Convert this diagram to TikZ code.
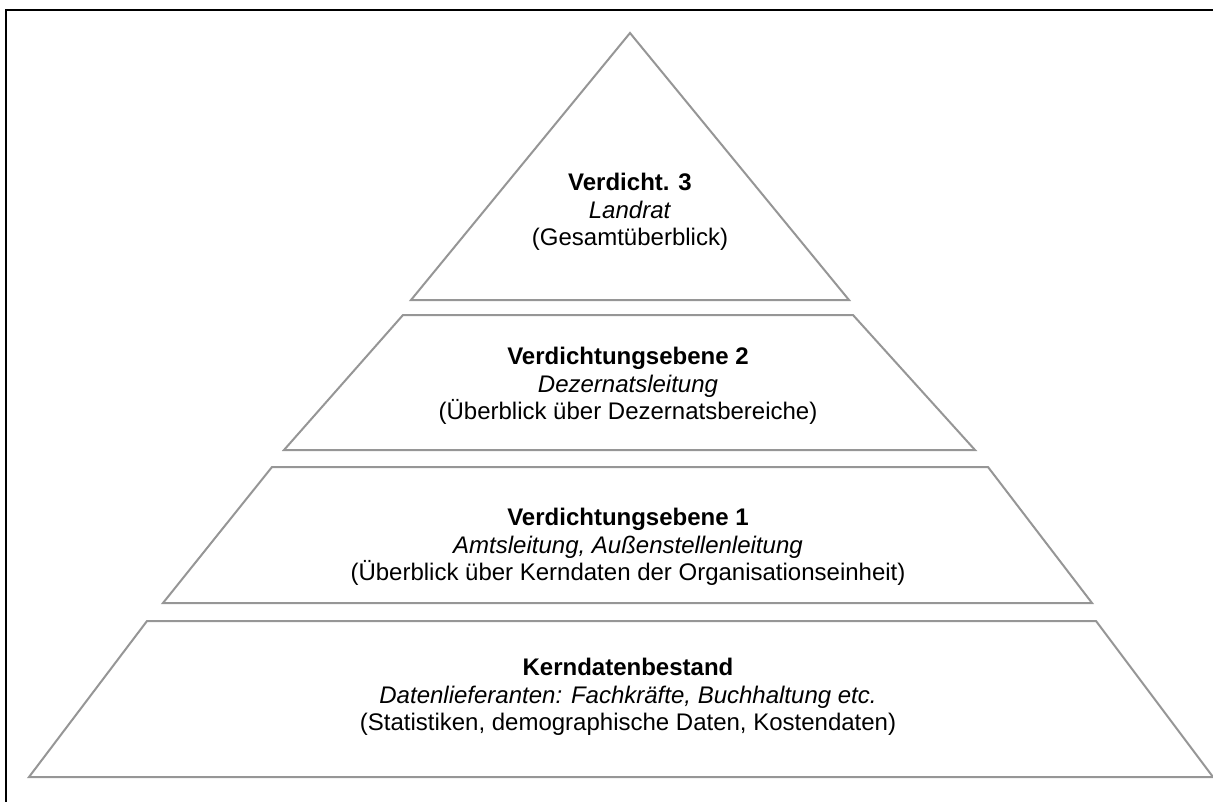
\documentclass[tikz,border=0pt]{standalone}
\usepackage{fontspec}
\setmainfont{Liberation Sans}
\definecolor{layergray}{RGB}{150,150,150}

\begin{document}
\begin{tikzpicture}[x=0.75pt, y=-0.75pt,
    layer/.style={draw=layergray, line width=1.5pt, line join=miter},
    caption/.style={align=center, font=\fontsize{18}{20.5}\selectfont, inner sep=0pt}]
  \useasboundingbox (0,0) rectangle (1213,801);
  % frame (cut off at right and bottom)
  \draw[black, line width=2.2pt] (6,10) rectangle (1240,830);
  % pyramid layers
  \draw[layer] (630,33) -- (849,300) -- (411,300) -- cycle;
  \draw[layer] (403,315) -- (853,315) -- (975,450) -- (284,450) -- cycle;
  \draw[layer] (272,467) -- (988,467) -- (1092,603) -- (163,603) -- cycle;
  \draw[layer] (147,621) -- (1096,621) -- (1213,777) -- (29,777) -- cycle;
  % labels
  \node[caption] (top)  at (630,212) {\textbf{Verdicht. 3}\\\textit{Landrat}\\(Gesamtüberblick)};
  \node[caption] (lev2) at (628,386) {\textbf{Verdichtungsebene 2}\\\textit{Dezernatsleitung}\\(Überblick über Dezernatsbereiche)};
  \node[caption] (lev1) at (628,547) {\textbf{Verdichtungsebene 1}\\\textit{Amtsleitung, Außenstellenleitung}\\(Überblick über Kerndaten der Organisationseinheit)};
  \node[caption] (base) at (628,697) {\textbf{Kerndatenbestand}\\\textit{Datenlieferanten: Fachkräfte, Buchhaltung etc.}\\(Statistiken, demographische Daten, Kostendaten)};
\end{tikzpicture}
\end{document}
